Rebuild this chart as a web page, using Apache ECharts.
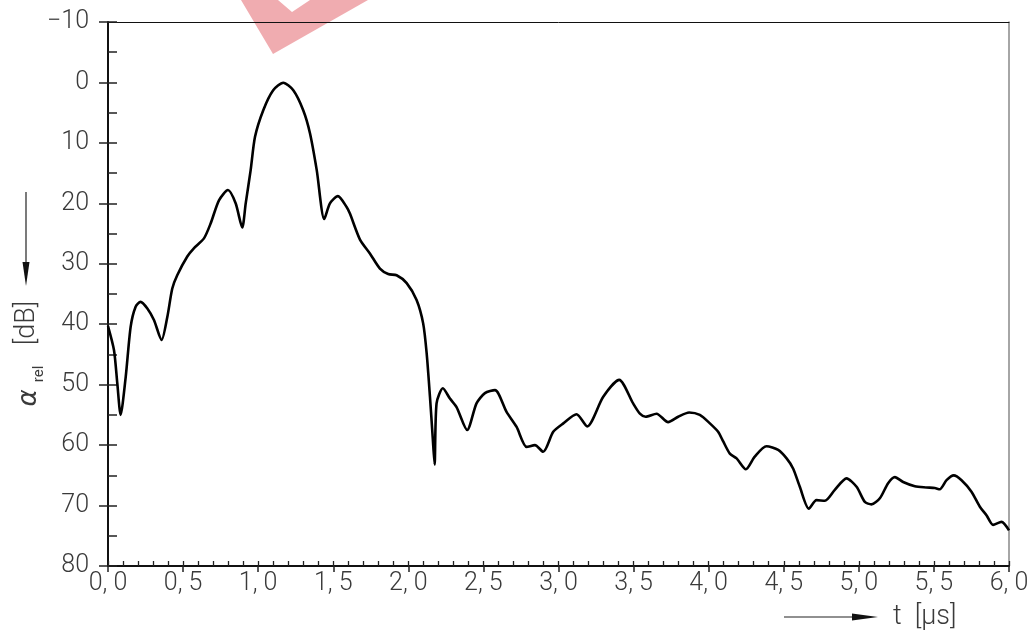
<!DOCTYPE html>
<html>
<head>
<meta charset="utf-8">
<script src="https://cdn.jsdelivr.net/npm/echarts@6/dist/echarts.min.js"></script>
<style>
  html, body { margin: 0; padding: 0; background: #fff; }
  #chart { width: 1035px; height: 635px; }
</style>
</head>
<body>
<div id="chart"></div>
<script>
// zeit in µs
var tValues = [0.000, 0.040, 0.062, 0.084, 0.118, 0.151, 0.184, 0.217, 0.262, 0.306,
	0.357, 0.395, 0.428, 0.461, 0.528, 0.573, 0.639, 0.684, 0.739, 0.799,
	0.850, 0.894, 0.917, 0.950, 0.979, 1.034, 1.100, 1.167, 1.234, 1.300,
	1.345, 1.390, 1.440, 1.478, 1.531, 1.589, 1.611, 1.678, 1.744, 1.811,
	1.866, 1.922, 1.989, 2.055, 2.099, 2.122, 2.144, 2.162, 2.175, 2.188,
	2.230, 2.277, 2.321, 2.392, 2.454, 2.510, 2.577, 2.654, 2.721, 2.788,
	2.843, 2.898, 2.965, 3.032, 3.120, 3.191, 3.298, 3.404, 3.497, 3.542,
	3.580, 3.653, 3.730, 3.797, 3.870, 3.941, 4.008, 4.063, 4.097, 4.141,
	4.186, 4.248, 4.307, 4.385, 4.463, 4.519, 4.563, 4.607, 4.667, 4.718,
	4.774, 4.840, 4.918, 4.985, 5.040, 5.084, 5.140, 5.195, 5.240, 5.295,
	5.373, 5.451, 5.506, 5.539, 5.584, 5.632, 5.684, 5.750, 5.806, 5.850,
	5.894, 5.950, 6.000];
// relative dämpfung in dB
var alphaRel = [40.3, 44.3, 49.8, 55.0, 48.7, 40.4, 37.1, 36.3, 37.4, 39.3,
	42.6, 38.8, 34.1, 31.9, 28.8, 27.4, 25.8, 23.3, 19.5, 17.8,
	20.0, 24.0, 20.0, 14.5, 9.0, 4.6, 1.3, 0.05, 1.3, 4.6,
	8.4, 14.5, 22.6, 20.0, 18.8, 20.6, 21.7, 26.0, 28.3, 30.8,
	31.7, 31.9, 33.2, 36.0, 39.9, 44.8, 52.0, 58.6, 63.2, 53.1,
	50.6, 52.3, 53.7, 57.5, 53.1, 51.4, 50.9, 54.5, 57.0, 60.3,
	60.0, 61.1, 57.8, 56.4, 54.9, 56.9, 52.0, 49.2, 53.1, 54.8,
	55.3, 54.8, 56.2, 55.3, 54.6, 55.0, 56.4, 57.8, 59.4, 61.4,
	62.2, 64.0, 61.9, 60.2, 60.8, 62.2, 63.9, 66.9, 70.5, 69.1,
	69.2, 67.4, 65.5, 66.9, 69.4, 69.8, 68.8, 66.3, 65.3, 66.1,
	66.8, 67.0, 67.1, 67.3, 65.8, 65.0, 65.8, 67.7, 70.2, 71.6,
	73.2, 72.7, 74.1];

var xTickLabels = ['0, 0', '0, 5', '1, 0', '1, 5', '2, 0', '2, 5', '3, 0',
	'3, 5', '4, 0', '4, 5', '5, 0', '5, 5', '6, 0'];
var yTickLabels = ['\u221210', '0', '10', '20', '30', '40', '50', '60', '70', '80'];

var points = [];
for (var i = 0; i < tValues.length; i++) {
	points.push([tValues[i], alphaRel[i]]);
}

var labelFont = 'Roboto, "Liberation Sans", sans-serif';
var txtColor = '#3a3a3a';

var myChart = echarts.init(document.getElementById('chart'));

var option = {
	animation: false,
	backgroundColor: '#fff',
	grid: { left: 108, right: 26, top: 22, bottom: 69 },
	xAxis: [{
		// hauptachse unten mit beschriftung
		type: 'value', min: 0, max: 6, interval: 0.5, position: 'bottom',
		axisLine: { show: true, onZero: false, lineStyle: { color: '#111', width: 2 } },
		axisTick: { show: true, inside: false, length: 6, lineStyle: { color: '#222', width: 1.5 } },
		axisLabel: {
			margin: 5, fontSize: 25, fontFamily: labelFont, fontWeight: 300, color: txtColor,
			formatter: function (v) { return xTickLabels[Math.round(v / 0.5)]; }
		},
		splitLine: { show: false }
	}, {
		// feine striche innen
		type: 'value', min: 0, max: 6, interval: 0.1, position: 'bottom',
		axisLine: { show: false, onZero: false },
		axisTick: { show: true, inside: true, length: 5, lineStyle: { color: '#222', width: 1.3 } },
		axisLabel: { show: false },
		splitLine: { show: false }
	}, {
		// rahmen oben
		type: 'value', min: 0, max: 6, position: 'top',
		axisLine: { show: true, onZero: false, lineStyle: { color: '#111', width: 1 } },
		axisTick: { show: false }, axisLabel: { show: false }, splitLine: { show: false }
	}],
	yAxis: [{
		type: 'value', min: -10, max: 80, interval: 10, inverse: true, position: 'left',
		axisLine: { show: true, onZero: false, lineStyle: { color: '#111', width: 2 } },
		axisTick: { show: true, inside: false, length: 9, lineStyle: { color: '#222', width: 1.5 } },
		axisLabel: {
			margin: 19, fontSize: 25, fontFamily: labelFont, fontWeight: 300, color: txtColor,
			formatter: function (v) { return yTickLabels[Math.round((v + 10) / 10)]; }
		},
		splitLine: { show: false }
	}, {
		type: 'value', min: -10, max: 80, interval: 5, inverse: true, position: 'left',
		axisLine: { show: false, onZero: false },
		axisTick: { show: true, inside: true, length: 9, lineStyle: { color: '#222', width: 1.5 } },
		axisLabel: { show: false },
		splitLine: { show: false }
	}, {
		// rahmen rechts
		type: 'value', min: -10, max: 80, inverse: true, position: 'right',
		axisLine: { show: true, onZero: false, lineStyle: { color: '#888', width: 1.5 } },
		axisTick: { show: false }, axisLabel: { show: false }, splitLine: { show: false }
	}],
	graphic: [
		// roter stempel oben
		{
			type: 'polygon', z: 0,
			shape: { points: [[241, 0], [273, 54], [368, 0], [310, 0], [292, 12], [278, 0]] },
			style: { fill: 'rgba(222,70,80,0.45)' }
		},
		// pfeil y
		{ type: 'line', shape: { x1: 26, y1: 192, x2: 26, y2: 264 }, style: { stroke: '#222', lineWidth: 1.2 } },
		{ type: 'polygon', shape: { points: [[22.5, 262], [29.5, 262], [26, 286]] }, style: { fill: '#111' } },
		// y titel
		{ type: 'text', x: 29, y: 398, rotation: Math.PI / 2,
			style: { text: '\u03b1', fontSize: 26, fontStyle: 'italic', fontFamily: '"DejaVu Sans", sans-serif', fontWeight: 200, fill: txtColor, align: 'center', verticalAlign: 'middle' } },
		{ type: 'text', x: 39, y: 374, rotation: Math.PI / 2,
			style: { text: 'rel', fontSize: 15, fontFamily: labelFont, fill: txtColor, align: 'center', verticalAlign: 'middle' } },
		{ type: 'text', x: 27, y: 323, rotation: Math.PI / 2,
			style: { text: '[dB]', fontSize: 27, fontFamily: labelFont, fontWeight: 300, fill: txtColor, align: 'center', verticalAlign: 'middle' } },
		// pfeil x
		{ type: 'line', shape: { x1: 784, y1: 617, x2: 856, y2: 617 }, style: { stroke: '#222', lineWidth: 1.2 } },
		{ type: 'polygon', shape: { points: [[852, 613.5], [852, 620.5], [878, 617]] }, style: { fill: '#111' } },
		{ type: 'text', x: 893, y: 617,
			style: { text: 't  [\u03bcs]', fontSize: 27, fontFamily: labelFont, fontWeight: 300, fill: txtColor, align: 'left', verticalAlign: 'middle' } }
	],
	series: [{
		type: 'line',
		xAxisIndex: 0, yAxisIndex: 0,
		data: points,
		smooth: 0.25,
		showSymbol: false,
		lineStyle: { color: '#000', width: 2.6 },
		z: 5
	}]
};

myChart.setOption(option);
</script>
</body>
</html>
